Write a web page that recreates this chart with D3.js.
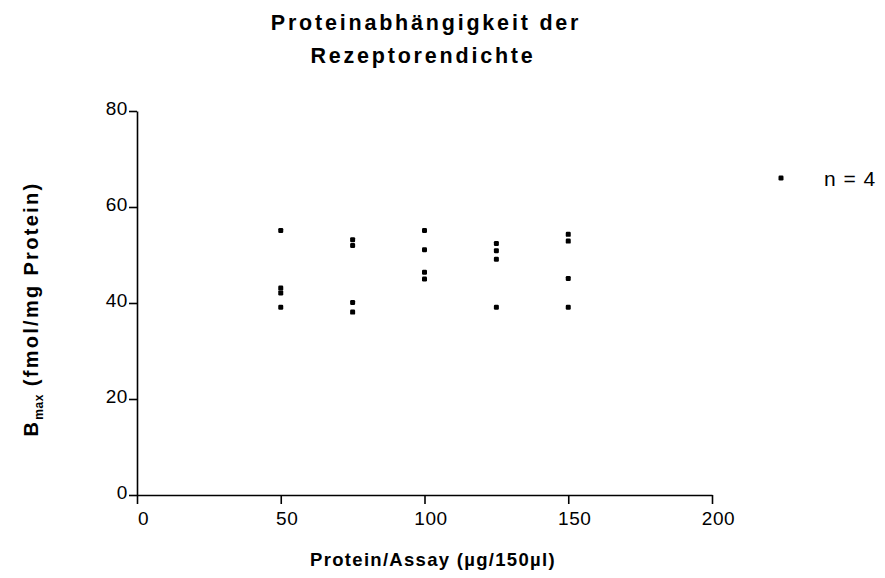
<!DOCTYPE html>
<html>
<head>
<meta charset="utf-8">
<script src="https://cdn.jsdelivr.net/npm/d3@7"></script>
<style>
  body { margin: 0; background: #fff; }
  text { font-family: "Liberation Sans", Arial, sans-serif; fill: #000; }
  .axis path, .axis line { stroke: #000; stroke-width: 1.6px; }
  .axis text { font-size: 19px; letter-spacing: 0.6px; }
</style>
</head>
<body>
<script>
let width = 885,
    height = 578

// data: protein per assay (x) and Bmax readings (n = 4 each)
const proteinLevels = [50, 75, 100, 125, 150]
const bmax50 = [55.1, 43.1, 42.1, 39.1]
const bmax75 = [53.2, 52.0, 40.1, 38.1]
const bmax100 = [55.1, 51.1, 46.4, 45.0]
const bmax125 = [52.4, 50.9, 49.1, 39.1]
const bmax150 = [54.3, 52.9, 45.1, 39.1]
const xTicks = [0, 50, 100, 150, 200]
const yTicks = [0, 20, 40, 60, 80]
const legendLabel = 'n = 4'

const series = [bmax50, bmax75, bmax100, bmax125, bmax150]
let points = []
proteinLevels.forEach((p, i) => series[i].forEach(v => points.push({x: p, y: v})))

let svg = d3.select('body').append('svg')
  .attr('width', width)
  .attr('height', height)

const x = d3.scaleLinear().domain([0, 200]).range([137, 712])
const y = d3.scaleLinear().domain([0, 80]).range([495, 111])
const markSize = 5

// axes
svg.append('g')
  .attr('class', 'axis')
  .attr('transform', `translate(0, ${y(0)})`)
  .call(d3.axisBottom(x).tickValues(xTicks).tickSize(9).tickPadding(8).tickSizeOuter(0))
  .call(g => g.selectAll('.tick text').attr('dx', 6))

svg.append('g')
  .attr('class', 'axis')
  .attr('transform', `translate(${x(0)}, 0)`)
  .call(d3.axisLeft(y).tickValues(yTicks).tickSize(8).tickPadding(1).tickSizeOuter(0))
  .call(g => g.selectAll('.tick text').attr('dy', '0.16em'))

// points
svg.append('g').selectAll('rect')
  .data(points)
  .enter().append('rect')
  .attr('x', d => x(d.x) - markSize/2)
  .attr('y', d => y(d.y) - markSize/2)
  .attr('width', markSize)
  .attr('height', markSize)
  .attr('rx', 1.2)
  .style('fill', '#000')

// title
let title = svg.append('text')
  .attr('text-anchor', 'middle')
  .style('font-size', '21.5px')
  .style('font-weight', 'bold')
  .style('letter-spacing', '2.8px')
title.append('tspan').attr('x', 426).attr('y', 30).text('Proteinabhängigkeit der')
title.append('tspan').attr('x', 423).attr('y', 63).text('Rezeptorendichte')

// x label
svg.append('text')
  .attr('x', 433)
  .attr('y', 566)
  .attr('text-anchor', 'middle')
  .style('font-size', '18.5px')
  .style('font-weight', 'bold')
  .style('letter-spacing', '1.3px')
  .text('Protein/Assay (µg/150µl)')

// y label
let ylab = svg.append('text')
  .attr('transform', 'translate(38, 309) rotate(-90)')
  .attr('text-anchor', 'middle')
  .style('font-size', '20px')
  .style('font-weight', 'bold')
  .style('letter-spacing', '2.3px')
ylab.append('tspan').text('B')
ylab.append('tspan').attr('dy', 5).style('font-size', '12px').style('letter-spacing', '0.5px').text('max')
ylab.append('tspan').attr('dy', -5).text(' (fmol/mg Protein)')

// legend
svg.append('rect')
  .attr('x', 781 - markSize/2).attr('y', 178 - markSize/2)
  .attr('width', markSize).attr('height', markSize).attr('rx', 1.2)
  .style('fill', '#000')
svg.append('text')
  .attr('x', 824)
  .attr('y', 186)
  .style('font-size', '21px')
  .style('letter-spacing', '1px')
  .text(legendLabel)
</script>
</body>
</html>
